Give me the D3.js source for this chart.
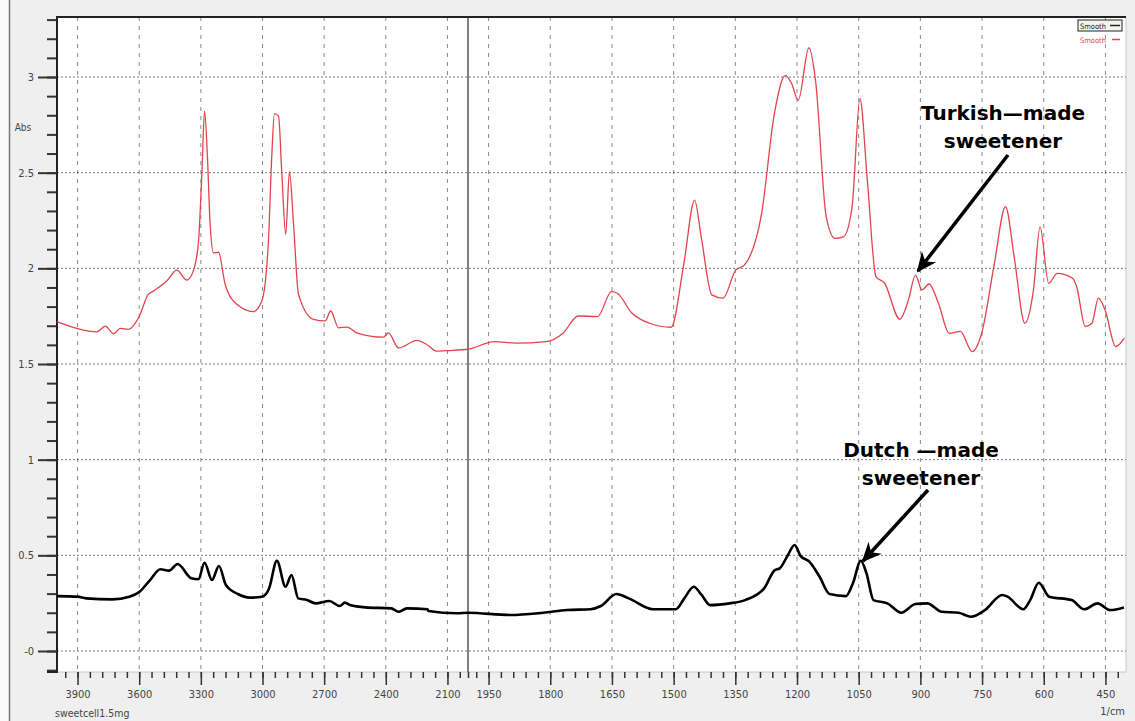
<!DOCTYPE html>
<html>
<head>
<meta charset="utf-8">
<script src="https://cdn.jsdelivr.net/npm/d3@7"></script>
<style>
  body { margin: 0; background: #f0f0f0; }
  svg { display: block; }
  .tick text { font-family: "Liberation Sans Narrow", "DejaVu Sans Condensed", sans-serif; font-size: 11px; fill: #444; }
  .note { font-family: "DejaVu Sans", sans-serif; font-weight: bold; font-size: 20px; fill: #000; }
</style>
</head>
<body>
<svg id="chart" width="1135" height="721"></svg>
<script>
"use strict"

// wavenumber (1/cm) and absorbance
const turkishWn = [4000, 3903, 3806, 3765, 3725, 3692, 3652, 3603, 3555, 3530, 3465, 3417, 3368, 3336, 3311, 3295, 3282, 3268, 3255, 3238,
  3214, 3182, 3125, 3044, 3003, 2971, 2955, 2942, 2922, 2906, 2887, 2869, 2849, 2825, 2752, 2695, 2668, 2630, 2590, 2541,
  2411, 2387, 2338, 2249, 2201, 2152, 2103, 2000, 1989, 1936, 1884, 1810, 1769, 1732, 1685, 1651, 1637, 1601, 1559, 1506,
  1475, 1449, 1433, 1407, 1380, 1349, 1328, 1286, 1255, 1228, 1213, 1197, 1171, 1155, 1129, 1108, 1087, 1066, 1047, 1029,
  1008, 987, 950, 929, 912, 896, 879, 856, 830, 803, 774, 751, 720, 693, 672, 646, 625, 609, 588, 567,
  530, 520, 499, 483, 467, 451, 425, 404]
const turkishAbs = [1.721, 1.686, 1.668, 1.698, 1.658, 1.686, 1.681, 1.742, 1.865, 1.882, 1.935, 1.991, 1.939, 1.988, 2.146, 2.496, 2.821, 2.584, 2.233, 2.081,
  2.084, 1.918, 1.812, 1.774, 1.830, 2.146, 2.584, 2.809, 2.795, 2.496, 2.177, 2.505, 2.233, 1.865, 1.733, 1.725, 1.777, 1.689, 1.693, 1.663,
  1.640, 1.663, 1.584, 1.623, 1.602, 1.567, 1.570, 1.577, 1.583, 1.617, 1.609, 1.617, 1.661, 1.751, 1.748, 1.878, 1.870, 1.765, 1.713, 1.692,
  2.026, 2.357, 2.165, 1.861, 1.844, 1.991, 2.017, 2.287, 2.809, 3.009, 2.965, 2.878, 3.153, 2.983, 2.270, 2.157, 2.165, 2.322, 2.887, 2.461,
  1.957, 1.922, 1.734, 1.835, 1.965, 1.887, 1.918, 1.817, 1.661, 1.670, 1.565, 1.661, 2.026, 2.322, 2.061, 1.713, 1.887, 2.217, 1.922, 1.974,
  1.948, 1.904, 1.696, 1.713, 1.844, 1.783, 1.591, 1.635]

const dutchWn = [4000, 3900, 3858, 3732, 3648, 3598, 3547, 3497, 3455, 3413, 3346, 3312, 3282, 3246, 3212, 3178, 3120, 3061, 3002, 2968,
  2930, 2888, 2859, 2826, 2784, 2742, 2675, 2624, 2599, 2574, 2499, 2373, 2339, 2297, 2197, 2192, 2054, 2000, 1897, 1817,
  1759, 1702, 1677, 1639, 1609, 1550, 1495, 1474, 1451, 1432, 1411, 1364, 1326, 1280, 1254, 1242, 1222, 1206, 1191, 1170,
  1145, 1121, 1081, 1064, 1045, 1031, 1014, 980, 946, 912, 883, 849, 807, 777, 743, 701, 688, 650, 633, 612,
  587, 532, 502, 469, 439, 405]
const dutchAbs = [0.287, 0.284, 0.275, 0.270, 0.284, 0.310, 0.371, 0.427, 0.420, 0.455, 0.380, 0.375, 0.461, 0.371, 0.444, 0.345, 0.298, 0.279, 0.284, 0.327,
  0.472, 0.336, 0.397, 0.275, 0.267, 0.249, 0.261, 0.235, 0.253, 0.240, 0.228, 0.223, 0.205, 0.223, 0.218, 0.209, 0.197, 0.200, 0.188, 0.200,
  0.214, 0.218, 0.235, 0.298, 0.275, 0.218, 0.218, 0.275, 0.336, 0.293, 0.240, 0.249, 0.266, 0.327, 0.423, 0.432, 0.502, 0.554, 0.496, 0.467,
  0.388, 0.298, 0.287, 0.354, 0.472, 0.406, 0.266, 0.249, 0.200, 0.246, 0.249, 0.205, 0.200, 0.179, 0.214, 0.293, 0.284, 0.218, 0.266, 0.357,
  0.284, 0.266, 0.218, 0.249, 0.214, 0.228]

const xTicksLeft = [3900, 3600, 3300, 3000, 2700, 2400, 2100]
const xTicksRight = [1950, 1800, 1650, 1500, 1350, 1200, 1050, 900, 750, 600, 450]
const yTicks = [0, 0.5, 1, 1.5, 2, 2.5, 3]
const yTickLabels = ["-0", "0.5", "1", "1.5", "2", "2.5", "3"]
const legendNames = ["Smooth", "Smooth"]
const notes = [
  { lines: ["Turkish\u2014made", "sweetener"], x: 1003, y: 120, from: [1008, 155], to: [918, 271] },
  { lines: ["Dutch \u2014made", "sweetener"], x: 921, y: 457, from: [928, 490], to: [863, 561] },
]

const plot = { left: 57, right: 1126, top: 17, bottom: 672 }
const svg = d3.select("#chart")

// the x axis is split at 2000 1/cm: the low part is stretched
const x = d3.scaleLinear().domain([4000, 2000, 400]).range([plot.left, 468, plot.right])
const y = d3.scaleLinear().domain([0, 3]).range([651, 77])

// window background
svg.append("rect").attr("width", 1135).attr("height", 721).attr("fill", "#efefef")
svg.append("rect").attr("width", 9).attr("height", 721).attr("fill", "#fafafa")
svg.append("line").attr("x1", 9.5).attr("x2", 9.5).attr("y1", 0).attr("y2", 721)
  .attr("stroke", "#777").attr("stroke-width", 1.5)
svg.append("rect")
  .attr("x", plot.left).attr("y", plot.top)
  .attr("width", plot.right - plot.left).attr("height", plot.bottom - plot.top)
  .attr("fill", "#fff").attr("stroke", "#c8c8c8")

// grid
const allX = xTicksLeft.concat(xTicksRight)
svg.append("g").selectAll("line").data(allX).enter().append("line")
  .attr("x1", d => x(d)).attr("x2", d => x(d))
  .attr("y1", plot.top).attr("y2", plot.bottom)
  .attr("stroke", "#8a8a8a").attr("stroke-dasharray", "4,5")
svg.append("g").selectAll("line").data(yTicks).enter().append("line")
  .attr("x1", plot.left).attr("x2", plot.right)
  .attr("y1", d => y(d)).attr("y2", d => y(d))
  .attr("stroke", "#7a7a7a").attr("stroke-dasharray", "2,2")

// break line at 2000
svg.append("line")
  .attr("x1", x(2000)).attr("x2", x(2000)).attr("y1", plot.top).attr("y2", plot.bottom)
  .attr("stroke", "#555").attr("stroke-width", 1.5)

// x axis, major and minor ticks
const minorX = []
for (let w = 3960; w > 2000; w -= 60) minorX.push(w)
minorX.push(2000)
for (let w = 1980; w > 400; w -= 30) minorX.push(w)

const xMinor = svg.append("g").attr("transform", `translate(0,${plot.bottom})`)
  .call(d3.axisBottom(x).tickValues(minorX).tickSize(6).tickFormat(""))
const xMajor = svg.append("g").attr("transform", `translate(0,${plot.bottom})`)
  .call(d3.axisBottom(x).tickValues(allX).tickSize(13).tickPadding(5).tickFormat(d3.format("d")))
;[xMinor, xMajor].forEach(g => {
  g.select(".domain").remove()
  g.selectAll(".tick line").attr("stroke", "#333").attr("stroke-width", 1.5)
})

// y axis
const minorY = d3.range(-1, 34).map(i => i / 10)
const yMinor = svg.append("g").attr("transform", `translate(${plot.left},0)`)
  .call(d3.axisLeft(y).tickValues(minorY).tickSize(10).tickFormat(""))
const yMajor = svg.append("g").attr("transform", `translate(${plot.left},0)`)
  .call(d3.axisLeft(y).tickValues(yTicks).tickSize(19).tickPadding(4).tickFormat((d, i) => yTickLabels[i]))
;[yMinor, yMajor].forEach(g => {
  g.select(".domain").remove()
  g.selectAll(".tick line").attr("stroke", "#333").attr("stroke-width", 2)
})

// frame: top rule and the bracket of the y axis
svg.append("path")
  .attr("d", `M${plot.left - 10},${plot.bottom}H${plot.left}V${plot.top}H${plot.right}`)
  .attr("fill", "none").attr("stroke", "#222").attr("stroke-width", 2)

const lblFont = "'Liberation Sans Narrow', 'DejaVu Sans Condensed', sans-serif"
svg.append("text").attr("x", 23).attr("y", 131).attr("text-anchor", "middle")
  .attr("font-size", 10).attr("font-family", lblFont).attr("fill", "#444").text("Abs")
svg.append("text").attr("x", 55).attr("y", 717)
  .attr("font-size", 10.5).attr("font-family", lblFont).attr("fill", "#444").text("sweetcell1.5mg")
svg.append("text").attr("x", 1125).attr("y", 715).attr("text-anchor", "end")
  .attr("font-size", 11).attr("font-family", lblFont).attr("fill", "#444").text("1/cm")

// spectra
const line = d3.line().x(d => x(d[0])).y(d => y(d[1])).curve(d3.curveMonotoneX)
svg.append("path").datum(d3.zip(turkishWn, turkishAbs))
  .attr("d", line).attr("fill", "none").attr("stroke", "#e4434a").attr("stroke-width", 1.3)
  .attr("stroke-linejoin", "round")
svg.append("path").datum(d3.zip(dutchWn, dutchAbs))
  .attr("d", line).attr("fill", "none").attr("stroke", "#000").attr("stroke-width", 2.6)
  .attr("stroke-linejoin", "round")

// legend
svg.append("rect").attr("x", 1078).attr("y", 20).attr("width", 44).attr("height", 11)
  .attr("fill", "#f4f4ee").attr("stroke", "#222")
const legColors = ["#222", "#e4434a"]
legendNames.forEach((n, i) => {
  const ly = 28.5 + i * 14
  svg.append("text").attr("x", 1080).attr("y", ly).attr("font-size", 7.5)
    .attr("font-family", lblFont).attr("fill", legColors[i]).text(n)
  svg.append("line").attr("x1", 1110 + i * 2).attr("x2", 1120).attr("y1", ly - 3).attr("y2", ly - 3)
    .attr("stroke", legColors[i]).attr("stroke-width", 1.5)
})

// annotations with arrows
svg.append("defs").append("marker")
  .attr("id", "head").attr("viewBox", "-20 -10 22 20")
  .attr("refX", 0).attr("refY", 0).attr("markerWidth", 22).attr("markerHeight", 20)
  .attr("markerUnits", "userSpaceOnUse").attr("orient", "auto")
  .append("path").attr("d", "M2,0L-18,-9L-12,0L-18,9Z").attr("fill", "#000")

notes.forEach(n => {
  n.lines.forEach((t, i) => {
    svg.append("text").attr("class", "note").attr("x", n.x).attr("y", n.y + i * 28)
      .attr("text-anchor", "middle").text(t)
  })
  svg.append("line")
    .attr("x1", n.from[0]).attr("y1", n.from[1]).attr("x2", n.to[0]).attr("y2", n.to[1])
    .attr("stroke", "#000").attr("stroke-width", 3.5).attr("marker-end", "url(#head)")
})
</script>
</body>
</html>
